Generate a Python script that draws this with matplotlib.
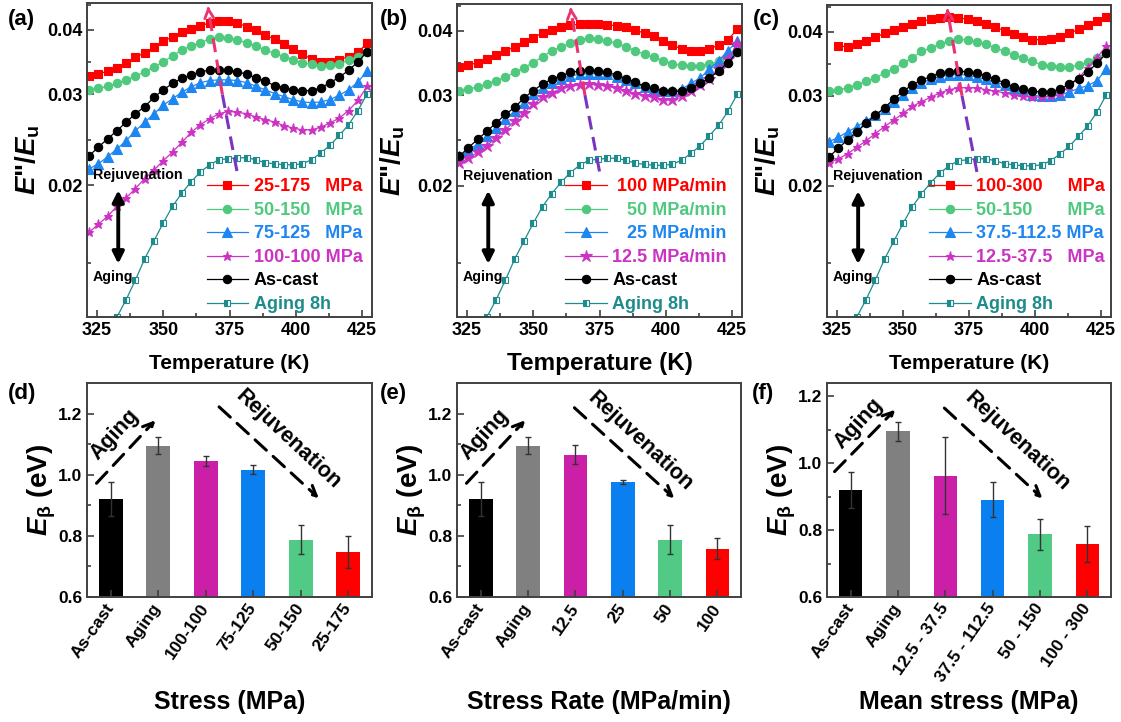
import numpy as np
import matplotlib.pyplot as plt
from matplotlib.ticker import FixedLocator, NullFormatter

plt.rcParams['font.family'] = ['Liberation Sans', 'DejaVu Sans']
plt.rcParams['font.weight'] = 'bold'
plt.rcParams['axes.labelweight'] = 'bold'
plt.rcParams['mathtext.fontset'] = 'custom'
plt.rcParams['mathtext.rm'] = 'Liberation Sans:bold'
plt.rcParams['mathtext.it'] = 'Liberation Sans:italic:bold'
plt.rcParams['mathtext.bf'] = 'Liberation Sans:bold'

# temperature grid of the DMA scans (K)
temps = [322, 325.5, 329, 332.5, 336, 339.5, 343, 346.5, 350, 353.5, 357,
         360.5, 364, 367.5, 371, 374.5, 378, 381.5, 385, 388.5, 392, 395.5,
         399, 402.5, 406, 409.5, 413, 416.5, 420, 423.5, 427]

# E''/Eu curves
as_cast = [0.0228, 0.0237, 0.0246, 0.0255, 0.0265, 0.0275, 0.0284, 0.0296, 0.0306, 0.0315, 0.0322,
           0.0327, 0.0332, 0.0334, 0.0335, 0.0334, 0.0332, 0.0328, 0.0323, 0.0318, 0.0312, 0.0309,
           0.0306, 0.0305, 0.0305, 0.0309, 0.0316, 0.0324, 0.0334, 0.0347, 0.0363]
aging_8h = [0.0088, 0.0095, 0.0103, 0.0111, 0.0120, 0.0131, 0.0144, 0.0156, 0.0169, 0.0182, 0.0193,
            0.0203, 0.0212, 0.0219, 0.0224, 0.0225, 0.0226, 0.0226, 0.0224, 0.0221, 0.0220, 0.0219,
            0.0219, 0.0220, 0.0224, 0.0231, 0.0239, 0.0250, 0.0262, 0.0279, 0.0301]
s50_150 = [0.0306, 0.0308, 0.0311, 0.0315, 0.0320, 0.0325, 0.0332, 0.0339, 0.0347, 0.0356, 0.0366,
           0.0372, 0.0378, 0.0384, 0.0387, 0.0385, 0.0382, 0.0378, 0.0372, 0.0366, 0.0360, 0.0355,
           0.0350, 0.0345, 0.0343, 0.0341, 0.0342, 0.0344, 0.0349, 0.0355, 0.0363]

s25_175 = [0.0325, 0.0328, 0.0333, 0.0338, 0.0345, 0.0354, 0.0361, 0.0370, 0.0380, 0.0388, 0.0396,
           0.0401, 0.0407, 0.0413, 0.0416, 0.0416, 0.0412, 0.0406, 0.0399, 0.0391, 0.0384, 0.0376,
           0.0367, 0.0359, 0.0351, 0.0347, 0.0347, 0.0350, 0.0355, 0.0362, 0.0377]
s75_125 = [0.0215, 0.0220, 0.0227, 0.0235, 0.0244, 0.0255, 0.0265, 0.0275, 0.0286, 0.0294, 0.0303,
           0.0310, 0.0316, 0.0319, 0.0320, 0.0320, 0.0319, 0.0316, 0.0311, 0.0306, 0.0301, 0.0297,
           0.0293, 0.0290, 0.0289, 0.0290, 0.0293, 0.0299, 0.0306, 0.0317, 0.0333]
s100_100 = [0.0162, 0.0168, 0.0174, 0.0182, 0.0189, 0.0197, 0.0206, 0.0214, 0.0223, 0.0232, 0.0242,
            0.0253, 0.0262, 0.0269, 0.0275, 0.0278, 0.0277, 0.0275, 0.0271, 0.0268, 0.0265, 0.0261,
            0.0258, 0.0256, 0.0256, 0.0259, 0.0264, 0.0270, 0.0279, 0.0292, 0.0311]

r100 = [0.0340, 0.0343, 0.0347, 0.0352, 0.0359, 0.0366, 0.0372, 0.0381, 0.0388, 0.0396, 0.0401,
        0.0406, 0.0410, 0.0412, 0.0413, 0.0412, 0.0411, 0.0409, 0.0406, 0.0401, 0.0396, 0.0390,
        0.0382, 0.0376, 0.0368, 0.0365, 0.0365, 0.0368, 0.0376, 0.0384, 0.0403]
r25 = [0.0228, 0.0234, 0.0241, 0.0250, 0.0259, 0.0269, 0.0279, 0.0290, 0.0301, 0.0310, 0.0317,
       0.0323, 0.0327, 0.0329, 0.0330, 0.0330, 0.0329, 0.0325, 0.0321, 0.0316, 0.0311, 0.0308,
       0.0306, 0.0305, 0.0308, 0.0316, 0.0324, 0.0337, 0.0350, 0.0366, 0.0382]
r12_5 = [0.0221, 0.0226, 0.0232, 0.0239, 0.0248, 0.0257, 0.0267, 0.0277, 0.0288, 0.0297, 0.0303,
         0.0309, 0.0312, 0.0314, 0.0315, 0.0314, 0.0312, 0.0309, 0.0306, 0.0302, 0.0299, 0.0297,
         0.0294, 0.0294, 0.0299, 0.0305, 0.0314, 0.0323, 0.0337, 0.0352, 0.0377]

# 100-300 scan starts one step later
m100_300 = [0.0375, 0.0374, 0.0378, 0.0384, 0.0390, 0.0397, 0.0403, 0.0409, 0.0414, 0.0419,
            0.0423, 0.0426, 0.0427, 0.0426, 0.0423, 0.0419, 0.0414, 0.0408, 0.0402, 0.0396,
            0.0390, 0.0386, 0.0386, 0.0387, 0.0391, 0.0397, 0.0404, 0.0412, 0.0419, 0.0428]
m37_112 = [0.0244, 0.0249, 0.0255, 0.0261, 0.0268, 0.0275, 0.0283, 0.0292, 0.0301, 0.0310, 0.0318,
           0.0323, 0.0327, 0.0329, 0.0330, 0.0329, 0.0326, 0.0323, 0.0319, 0.0315, 0.0311, 0.0306,
           0.0301, 0.0299, 0.0299, 0.0301, 0.0305, 0.0310, 0.0314, 0.0321, 0.0338]
m12_37 = [0.0222, 0.0226, 0.0231, 0.0238, 0.0245, 0.0253, 0.0261, 0.0269, 0.0277, 0.0286, 0.0292,
          0.0298, 0.0304, 0.0308, 0.0311, 0.0311, 0.0311, 0.0308, 0.0306, 0.0304, 0.0301, 0.0299,
          0.0298, 0.0298, 0.0299, 0.0304, 0.0313, 0.0325, 0.0340, 0.0356, 0.0375]

# activation energies of beta relaxation (eV)
cats_d = ['As-cast', 'Aging', '100-100', '75-125', '50-150', '25-175']
eb_d = [0.921, 1.095, 1.044, 1.017, 0.788, 0.748]
err_d = [0.055, 0.028, 0.016, 0.016, 0.047, 0.053]
cats_e = ['As-cast', 'Aging', '12.5', '25', '50', '100']
eb_e = [0.921, 1.095, 1.066, 0.975, 0.788, 0.758]
err_e = [0.055, 0.028, 0.030, 0.007, 0.047, 0.034]
cats_f = ['As-cast', 'Aging', '12.5 - 37.5', '37.5 - 112.5', '50 - 150', '100 - 300']
eb_f = [0.921, 1.095, 0.963, 0.891, 0.788, 0.758]
err_f = [0.054, 0.028, 0.115, 0.053, 0.046, 0.054]

RED = '#FF0000'
GREEN = '#4FC97E'
BLUE = '#1E86F0'
MAG = '#CC33C4'
TEAL = '#1E8C8C'
bar_colors = ['#000000', '#808080', '#CB1FA8', '#0A80F0', '#50CA84', '#FF0000']
FRAME = '#404040'

fig = plt.figure(figsize=(11.21, 7.22), dpi=100)
W, H = 1121, 722


def add_axes(left, top, right, bottom):
    return fig.add_axes([left / W, 1 - bottom / H, (right - left) / W, (bottom - top) / H])


def style_frame(ax):
    for sp in ax.spines.values():
        sp.set_color(FRAME)
        sp.set_linewidth(1.4)
    ax.tick_params(which='both', direction='in', color=FRAME, width=1.2,
                   top=False, right=False)
    ax.tick_params(which='major', length=5)
    ax.tick_params(which='minor', length=3)


def loss_panel(ax, series, arrow_x, label_fs=15):
    for t, y, color, marker, ms, label in series:
        mfc = color
        alt = 'none'
        fill = 'full'
        if marker == 'sq':
            marker, mfc, alt, fill = 's', color, 'white', 'left'
        ax.plot(t, y, color=color, lw=0.9, marker=marker, ms=ms, mfc=mfc,
                mec=color, mew=0.8, fillstyle=fill, markerfacecoloralt=alt, label=label)
    ax.set_yscale('log')
    ax.set_xlim(321.2, 428.8)
    ax.set_ylim(0.0111, 0.0451)
    ax.yaxis.set_major_locator(FixedLocator([0.02, 0.03, 0.04]))
    ax.yaxis.set_minor_locator(FixedLocator([0.01414, 0.02449, 0.03464, 0.04472]))
    ax.yaxis.set_minor_formatter(NullFormatter())
    ax.set_yticklabels(['0.02', '0.03', '0.04'])
    ax.set_xticks([325, 350, 375, 400, 425])
    ax.set_xticks([337.5, 362.5, 387.5, 412.5], minor=True)
    ax.tick_params(labelsize=13)
    style_frame(ax)
    ax.set_xlabel('Temperature (K)', fontsize=label_fs, va='center')
    ax.xaxis.set_label_coords(0.5, -0.148)
    ax.set_ylabel('$E$"/$E_\\mathrm{u}$', fontsize=20, va='center')

    # shift of the beta peak
    x0, x1 = arrow_x
    xm = x0 + (x1 - x0) * 0.5
    ax.plot([x0, xm], [0.0213, 0.0300], color='#7A35C0', lw=2.2, dashes=(4.5, 2.5))
    ax.plot([xm, x1 + 0.3], [0.0300, 0.0436], color='#EA3370', lw=2.2, dashes=(4.5, 2.5))
    ax.annotate('', xy=(x1, 0.0450), xytext=(x1 + 0.3, 0.0434),
                arrowprops=dict(arrowstyle='->', color='#EA3370', lw=2, mutation_scale=16))

    ax.text(340.5, 0.0209, 'Rejuvenation', fontsize=10.3, ha='center', va='center')
    ax.annotate('', xy=(333, 0.0139), xytext=(333, 0.0198),
                arrowprops=dict(arrowstyle='<|-|>', color='k', lw=2.8, mutation_scale=17))
    ax.text(331, 0.0133, 'Aging', fontsize=10.3, ha='center', va='center')


def add_legend(ax, anchor_x):
    leg = ax.legend(loc='lower left', bbox_to_anchor=(anchor_x, 0.013), frameon=False,
                    fontsize=13, handlelength=2.3, handletextpad=0.3, labelspacing=0.36,
                    borderpad=0, borderaxespad=0)
    for txt, line in zip(leg.get_texts(), leg.get_lines()):
        txt.set_color(line.get_color())
    return leg


def bar_panel(ax, cats, vals, errs, ylim, xlabel, aging_arrow, aging_txt, rej_arrow, rej_txt):
    x = np.arange(len(cats))
    ax.bar(x, vals, width=0.5, color=bar_colors, linewidth=0)
    ax.errorbar(x, vals, yerr=errs, fmt='none', ecolor='#333333', elinewidth=1,
                capsize=2.5, capthick=1)
    ax.set_xlim(-0.5, 5.5)
    ax.set_ylim(*ylim)
    ax.set_yticks([0.6, 0.8, 1.0, 1.2])
    ax.set_yticks([0.7, 0.9, 1.1], minor=True)
    ax.set_xticks(x)
    ax.set_xticklabels(cats, rotation=55, ha='right', va='center',
                       rotation_mode='anchor', fontsize=12.5)
    ax.tick_params(axis='y', labelsize=12.5)
    ax.tick_params(axis='x', pad=6)
    style_frame(ax)
    ax.set_ylabel('$E_{\\mathrm{\u03b2}}$ (eV)', fontsize=20, va='center')
    ax.yaxis.set_label_coords(-0.158, 0.5)
    ax.set_xlabel(xlabel, fontsize=18, va='center')
    ax.xaxis.set_label_coords(0.5, -0.49)

    for (p0, p1), (tx, ty, rot), word in [(aging_arrow, aging_txt, 'Aging'),
                                          (rej_arrow, rej_txt, 'Rejuvenation')]:
        ax.annotate('', xy=p1, xytext=p0,
                    arrowprops=dict(arrowstyle='->', color='k', lw=2.2, ls=(0, (5, 3)),
                                    mutation_scale=18, shrinkA=0, shrinkB=0))
        ax.text(tx, ty, word, fontsize=15.5, rotation=rot, ha='center', va='center')


ax_a = add_axes(87, 3, 372, 317)
loss_panel(ax_a, [
    (temps, s25_175, RED, 's', 5.5, '25-175   MPa'),
    (temps, s50_150, GREEN, 'o', 6, '50-150   MPa'),
    (temps, s75_125, BLUE, '^', 6.5, '75-125   MPa'),
    (temps, s100_100, MAG, '*', 6.5, '100-100 MPa'),
    (temps, as_cast, 'k', 'o', 6, 'As-cast'),
    (temps, aging_8h, TEAL, 'sq', 5, 'Aging 8h'),
], (377.8, 366.8))
ax_a.yaxis.set_label_coords(-0.207, 0.5)
add_legend(ax_a, 0.42)

ax_b = add_axes(457, 4, 742, 317)
loss_panel(ax_b, [
    (temps, r100, RED, 's', 5.5, ' 100 MPa/min'),
    (temps, s50_150, GREEN, 'o', 6, '   50 MPa/min'),
    (temps, r25, BLUE, '^', 6.5, '   25 MPa/min'),
    (temps, r12_5, MAG, '*', 9, '12.5 MPa/min'),
    (temps, as_cast, 'k', 'o', 6, 'As-cast'),
    (temps, aging_8h, TEAL, 'sq', 5, 'Aging 8h'),
], (375.0, 364.0), label_fs=17.5)
ax_b.yaxis.set_label_coords(-0.225, 0.5)
add_legend(ax_b, 0.38)

ax_c = add_axes(827, 5, 1111, 317)
loss_panel(ax_c, [
    (temps[1:], m100_300, RED, 's', 5.5, '100-300     MPa'),
    (temps, s50_150, GREEN, 'o', 6, '50-150       MPa'),
    (temps, m37_112, BLUE, '^', 6.5, '37.5-112.5 MPa'),
    (temps, m12_37, MAG, '*', 6.5, '12.5-37.5   MPa'),
    (temps, as_cast, 'k', 'o', 6, 'As-cast'),
    (temps, aging_8h, TEAL, 'sq', 5, 'Aging 8h'),
], (378.0, 366.7))
ax_c.yaxis.set_label_coords(-0.208, 0.5)
add_legend(ax_c, 0.36)

ax_d = add_axes(87, 383, 372, 597)
bar_panel(ax_d, cats_d, eb_d, err_d, (0.6, 1.3), 'Stress (MPa)',
          ((-0.30, 0.972), (0.94, 1.178)), (0.08, 1.131, 47),
          ((2.28, 1.222), (4.38, 0.923)), (3.74, 1.115, -43))

ax_e = add_axes(457, 383, 741, 597)
bar_panel(ax_e, cats_e, eb_e, err_e, (0.6, 1.3), 'Stress Rate (MPa/min)',
          ((-0.30, 0.972), (0.94, 1.178)), (0.08, 1.131, 47),
          ((1.98, 1.219), (4.09, 0.923)), (3.38, 1.109, -43))

ax_f = add_axes(827, 383, 1111, 597)
bar_panel(ax_f, cats_f, eb_f, err_f, (0.6, 1.24), 'Mean stress (MPa)',
          ((-0.34, 0.975), (0.94, 1.16)), (0.16, 1.12, 47),
          ((1.98, 1.165), (4.05, 0.895)), (3.53, 1.065, -43))

for lab, px, py in [('(a)', 8, 20), ('(b)', 380, 20), ('(c)', 753, 20),
                    ('(d)', 8, 393), ('(e)', 380, 393), ('(f)', 752, 393)]:
    fig.text(px / W, 1 - py / H, lab, fontsize=16, ha='left', va='center')

fig.savefig('out.png', dpi=100)
